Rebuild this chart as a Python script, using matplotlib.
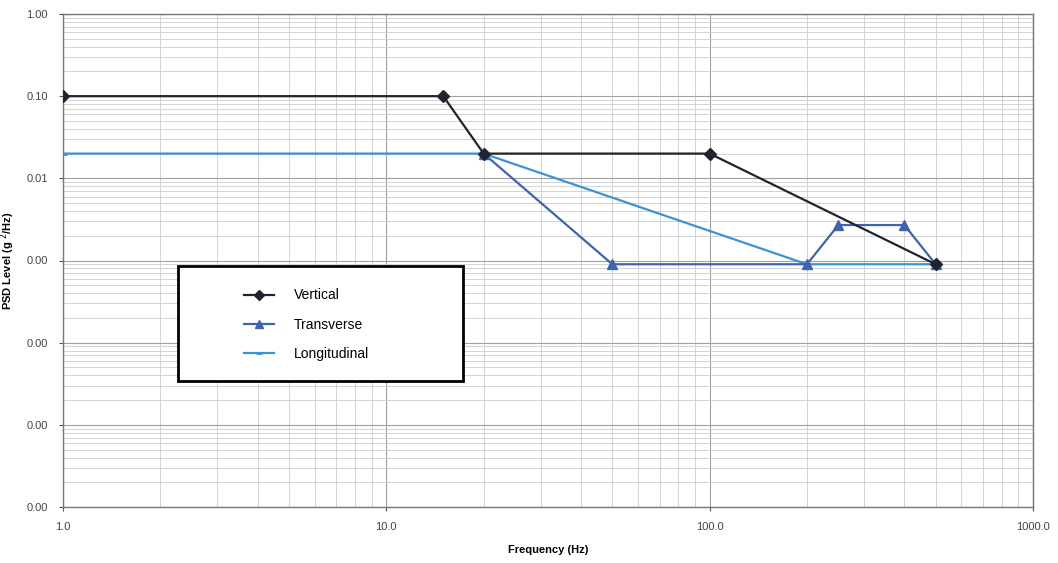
import matplotlib.pyplot as plt
from matplotlib.patches import Rectangle
from matplotlib.ticker import FixedLocator, FormatStrFormatter, LogLocator, NullFormatter

plt.rcParams['font.family'] = ['Liberation Sans', 'DejaVu Sans']

# data
vert_f = [1, 15, 20, 100, 500]
vert_psd = [0.1, 0.1, 0.02, 0.02, 0.0009]

trans_f = [20, 50, 200, 250, 400, 500]
trans_psd = [0.02, 0.0009, 0.0009, 0.0027, 0.0027, 0.0009]

long_f = [1, 20, 200, 500]
long_psd = [0.02, 0.02, 0.0009, 0.0009]

x_ticks = [1, 10, 100, 1000]
y_ticks = [1e-6, 1e-5, 1e-4, 1e-3, 1e-2, 1e-1, 1]

fig = plt.figure(figsize=(10.58, 5.63), dpi=100)
ax = fig.add_axes([63 / 1058, 1 - 507 / 563, 970 / 1058, 493 / 563])

ax.plot(vert_f, vert_psd, color='#23232f', lw=1.6, marker='D', ms=6, label='Vertical', zorder=4)
ax.plot(trans_f, trans_psd, color='#3f63ad', lw=1.6, marker='^', ms=7, label='Transverse', zorder=3)
ax.plot(long_f, long_psd, color='#3d92d3', lw=1.6, marker='_', ms=6, mew=2, label='Longitudinal', zorder=2)

ax.set_xscale('log')
ax.set_yscale('log')
ax.set_xlim(1, 1000)
ax.set_ylim(1e-6, 1)

ax.xaxis.set_major_locator(FixedLocator(x_ticks))
ax.yaxis.set_major_locator(FixedLocator(y_ticks))
ax.xaxis.set_major_formatter(FormatStrFormatter('%.1f'))
ax.yaxis.set_major_formatter(FormatStrFormatter('%.2f'))
ax.xaxis.set_minor_locator(LogLocator(base=10, subs=range(2, 10)))
ax.yaxis.set_minor_locator(LogLocator(base=10, subs=range(2, 10)))
ax.xaxis.set_minor_formatter(NullFormatter())
ax.yaxis.set_minor_formatter(NullFormatter())

ax.grid(which='major', color='#a0a0a0', lw=0.8)
ax.grid(which='minor', color='#cccccc', lw=0.6)
ax.tick_params(which='both', length=0, labelsize=8, colors='#444444', pad=8)
ax.tick_params(which='major', axis='both', length=3, color='#555555')
for s in ax.spines.values():
    s.set_color('#777777')
    s.set_linewidth(1)

ax.set_xlabel('Frequency (Hz)', fontsize=8, fontweight='bold')
ax.xaxis.set_label_coords(0.5, -38 / 493)
ax.set_ylabel('PSD Level (g $^2$/Hz)', fontsize=8, fontweight='bold')
ax.yaxis.set_label_coords(-46 / 970, 0.5)

# legend box with heavy border
box = Rectangle((115 / 970, 1 - 367 / 493), 285 / 970, 115 / 493, transform=ax.transAxes,
                facecolor='white', edgecolor='black', lw=2, zorder=5)
ax.add_patch(box)
leg = ax.legend(loc='upper left', bbox_to_anchor=(168 / 970, 1 - 262 / 493), frameon=False,
                fontsize=10, handlelength=2.2, labelspacing=1.1, handletextpad=1.4,
                markerscale=0.8)
leg.set_zorder(6)

fig.savefig('out.png', dpi=100)
